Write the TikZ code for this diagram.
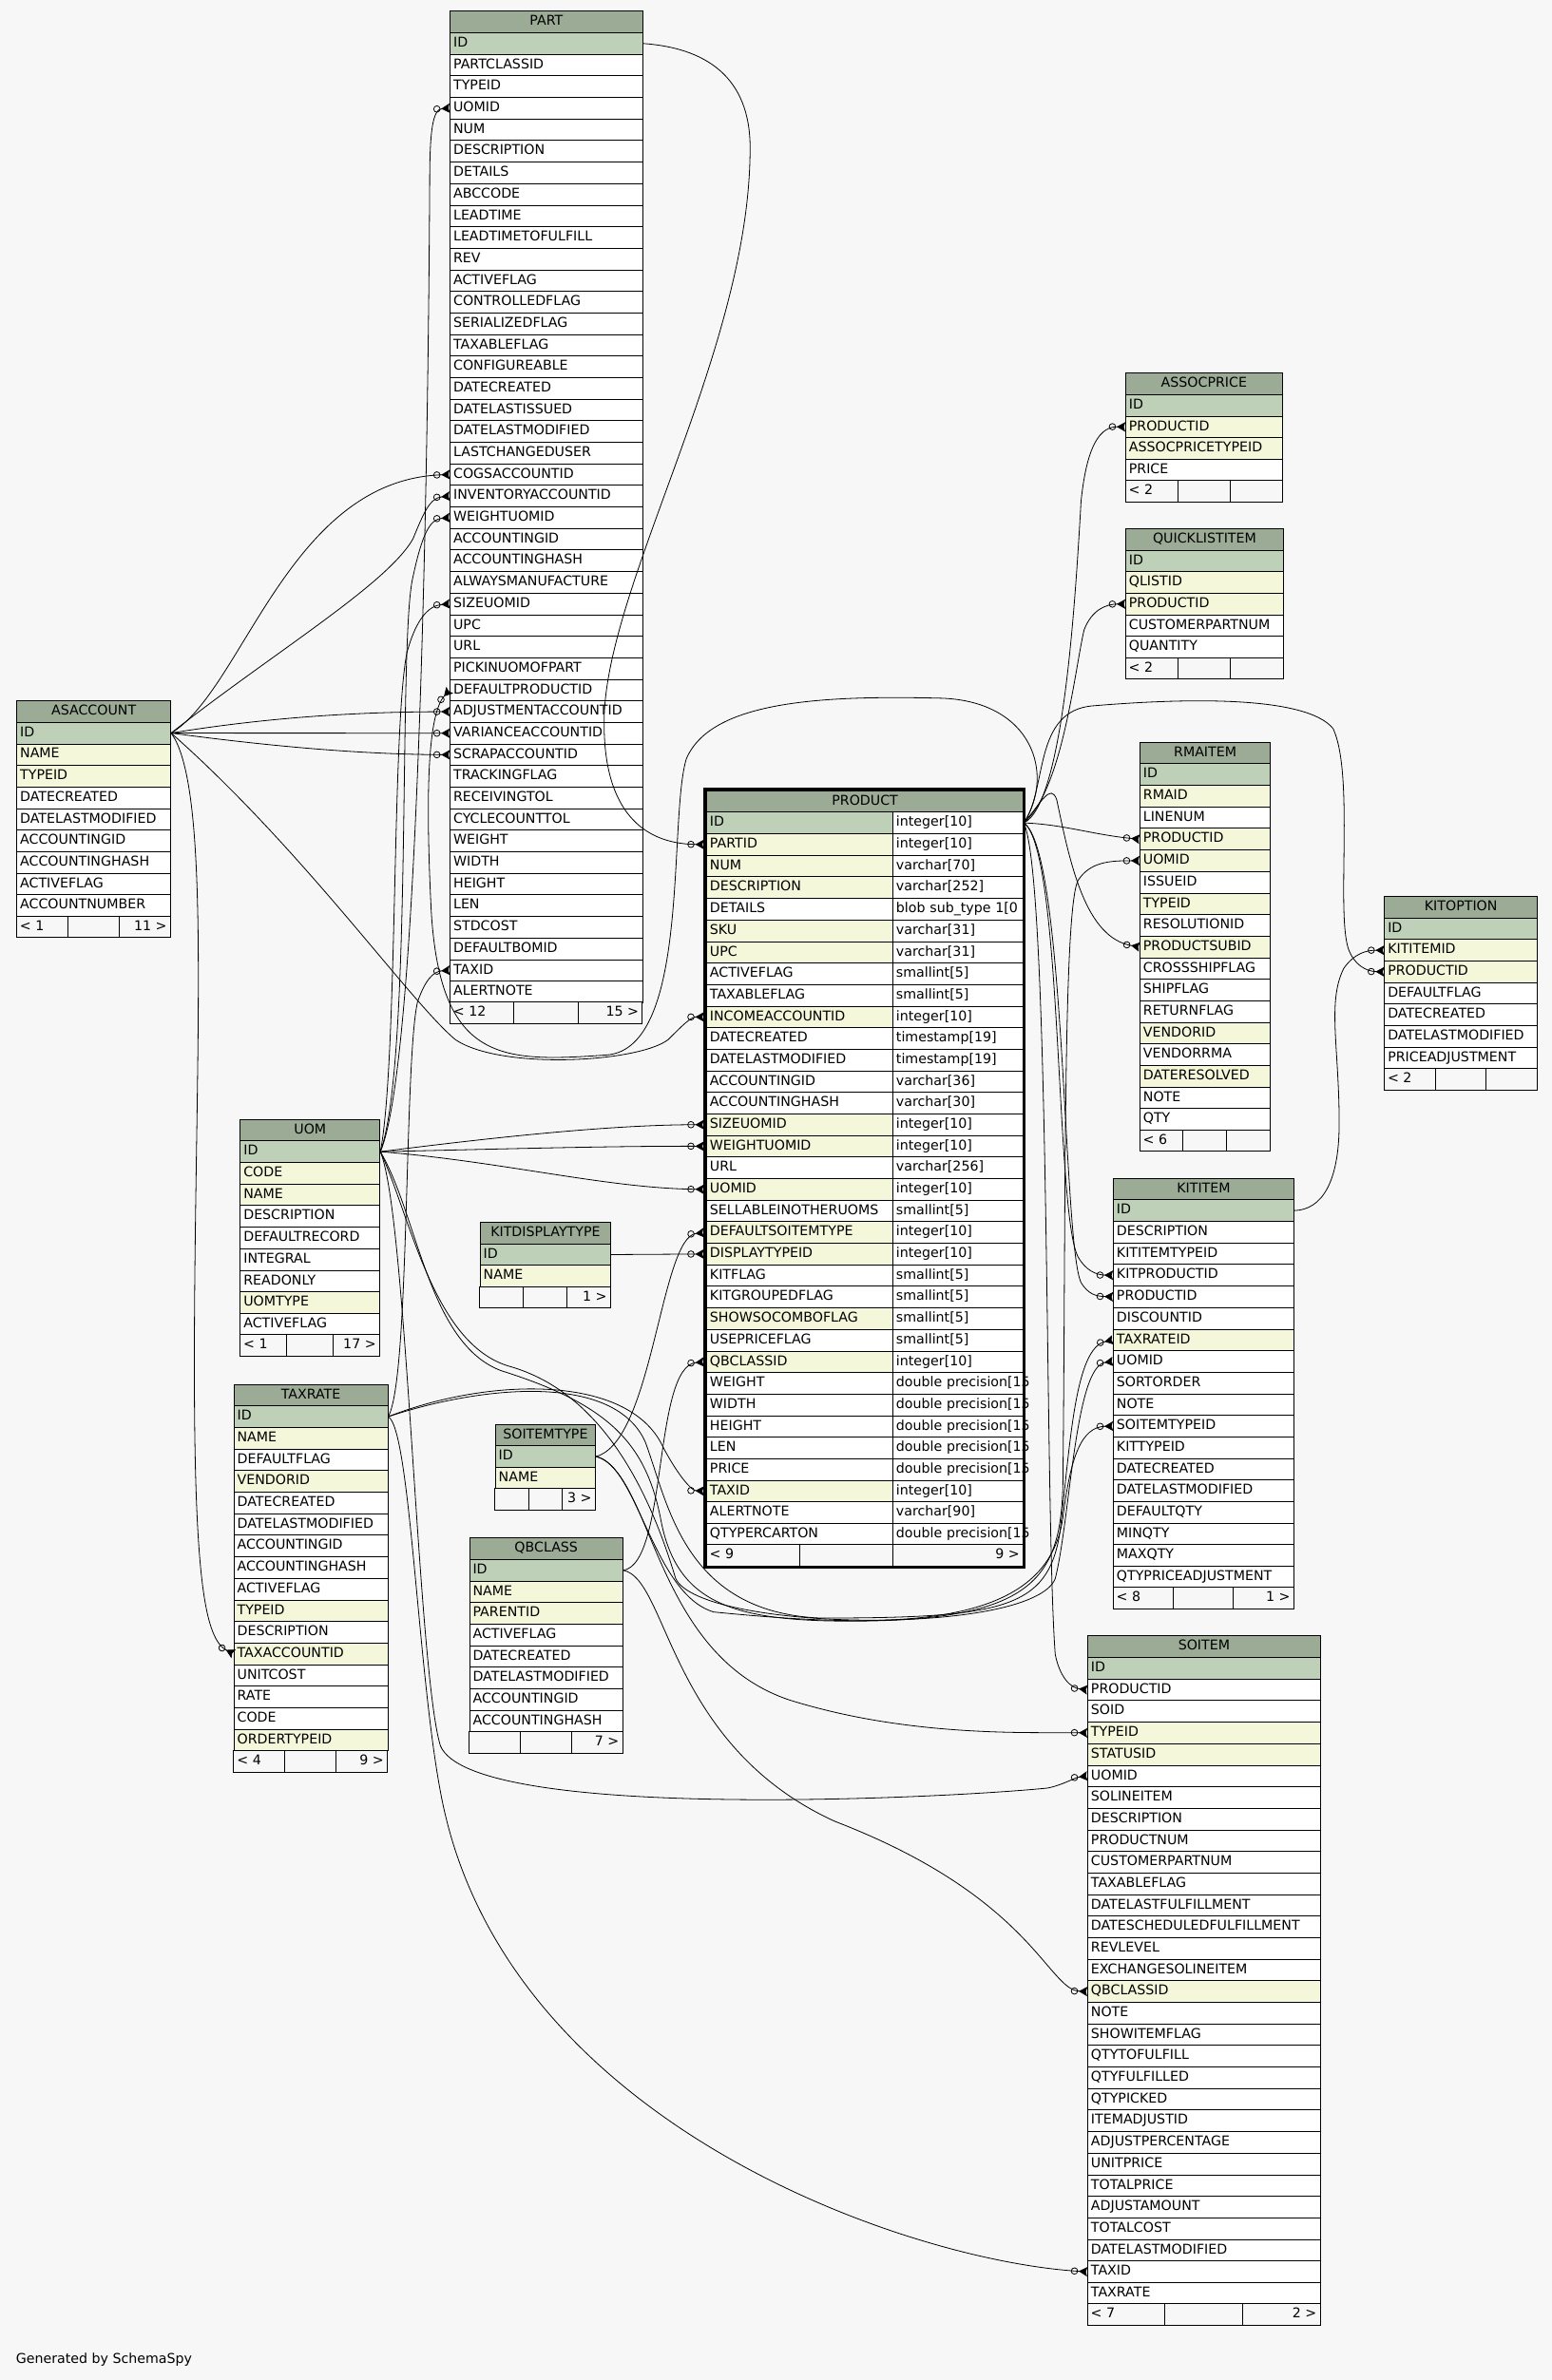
\documentclass[tikz,border=0pt]{standalone}
\usepackage{fontspec}
\setmainfont{DejaVu Sans}
\usetikzlibrary{arrows.meta}

\definecolor{headcol}{HTML}{9BAB96}
\definecolor{pkcol}{HTML}{BED1B8}
\definecolor{ixcol}{HTML}{F4F7DA}
\definecolor{bgcol}{HTML}{F7F7F7}

% table: name, left, top, width, title, rows (text/style), footer left, footer right
\newcommand{\dbtable}[8]{%
  \pgfmathsetmacro{\tblw}{#4*1.598-7}%
  \node[tblhead, text width=\tblw pt] (#1) at (#2,#3) {#5};
  \foreach \txt/\sty [count=\i] in {#6}{%
    \node[\sty, text width=\tblw pt] (#1-\i) at (#2,#3+\i*14.2) {\txt};
    \xdef\tblrows{\i}}
  \pgfmathsetmacro{\tblfy}{#3+(\tblrows+1)*14.2}%
  \draw[tblline, fill=bgcol] (#2,\tblfy) rectangle ++(#4,14.2);
  \draw[tblline] (#2+#4/3,\tblfy) -- ++(0,14.2) (#2+2*#4/3,\tblfy) -- ++(0,14.2);
  \node[ftxt, anchor=west] (#1-fl) at (#2,\tblfy+7.1) {#7};
  \node[ftxt, anchor=east] (#1-fr) at (#2+#4,\tblfy+7.1) {#8};
}

\begin{document}
\begin{tikzpicture}[
    x=1.598pt, y=-1.598pt,
    cell/.style={draw, line width=.8pt, anchor=north west, inner xsep=3.5pt, inner ysep=0pt,
                 minimum height=22.7pt, text height=10.5pt, text depth=3pt, align=left,
                 font=\fontsize{14.2}{16}\selectfont},
    tblhead/.style={cell, fill=headcol, align=center},
    pk/.style={cell, fill=pkcol},
    ix/.style={cell, fill=ixcol},
    col/.style={cell, fill=white},
    ftxt/.style={inner xsep=3.5pt, inner ysep=0pt, text height=10.5pt, text depth=3pt,
                 font=\fontsize{14.2}{16}\selectfont},
    tblline/.style={draw, line width=.8pt},
    fk/.style={draw, line width=.8pt,
               -{Circle[open, length=7.5pt, sep=.8pt] Stealth[reversed, length=9pt, width=10pt, inset=1.5pt]}},
    fkp/.style={fk, shorten >=2.5pt}
]

\fill[bgcol] (0,0) rectangle (1022,1568);
\useasboundingbox (0,0) rectangle (1022,1568);

% ---------- Tables ----------
\dbtable{part}{296.2}{7.1}{126.8}{PART}{ID/pk, PARTCLASSID/col, TYPEID/col, UOMID/col, NUM/col,
  DESCRIPTION/col, DETAILS/col, ABCCODE/col, LEADTIME/col, LEADTIMETOFULFILL/col, REV/col,
  ACTIVEFLAG/col, CONTROLLEDFLAG/col, SERIALIZEDFLAG/col, TAXABLEFLAG/col, CONFIGUREABLE/col,
  DATECREATED/col, DATELASTISSUED/col, DATELASTMODIFIED/col, LASTCHANGEDUSER/col,
  COGSACCOUNTID/col, INVENTORYACCOUNTID/col, WEIGHTUOMID/col, ACCOUNTINGID/col,
  ACCOUNTINGHASH/col, ALWAYSMANUFACTURE/col, SIZEUOMID/col, UPC/col, URL/col,
  PICKINUOMOFPART/col, DEFAULTPRODUCTID/col, ADJUSTMENTACCOUNTID/col, VARIANCEACCOUNTID/col,
  SCRAPACCOUNTID/col, TRACKINGFLAG/col, RECEIVINGTOL/col, CYCLECOUNTTOL/col, WEIGHT/col,
  WIDTH/col, HEIGHT/col, LEN/col, STDCOST/col, DEFAULTBOMID/col, TAXID/col, ALERTNOTE/col}{< 12}{15 >}

\dbtable{asaccount}{10.8}{461.4}{101.4}{ASACCOUNT}{ID/pk, NAME/ix, TYPEID/ix, DATECREATED/col,
  DATELASTMODIFIED/col, ACCOUNTINGID/col, ACCOUNTINGHASH/col, ACTIVEFLAG/col,
  ACCOUNTNUMBER/col}{< 1}{11 >}

\dbtable{assocprice}{741.1}{245.5}{103.3}{ASSOCPRICE}{ID/pk, PRODUCTID/ix, ASSOCPRICETYPEID/ix,
  PRICE/col}{< 2}{}

\dbtable{quicklist}{741.1}{348}{104}{QUICKLISTITEM}{ID/pk, QLISTID/ix, PRODUCTID/ix,
  CUSTOMERPARTNUM/col, QUANTITY/col}{< 2}{}

\dbtable{rmaitem}{750.5}{488.7}{86}{RMAITEM}{ID/pk, RMAID/ix, LINENUM/col, PRODUCTID/ix, UOMID/ix,
  ISSUEID/col, TYPEID/ix, RESOLUTIONID/col, PRODUCTSUBID/ix, CROSSSHIPFLAG/col, SHIPFLAG/col,
  RETURNFLAG/col, VENDORID/ix, VENDORRMA/col, DATERESOLVED/ix, NOTE/col, QTY/col}{< 6}{}

\dbtable{kitoption}{911.6}{590.3}{100.7}{KITOPTION}{ID/pk, KITITEMID/ix, PRODUCTID/ix,
  DEFAULTFLAG/col, DATECREATED/col, DATELASTMODIFIED/col, PRICEADJUSTMENT/col}{< 2}{}

\dbtable{kititem}{733}{776}{119}{KITITEM}{ID/pk, DESCRIPTION/col, KITITEMTYPEID/col,
  KITPRODUCTID/col, PRODUCTID/col, DISCOUNTID/col, TAXRATEID/ix, UOMID/col, SORTORDER/col,
  NOTE/col, SOITEMTYPEID/col, KITTYPEID/col, DATECREATED/col, DATELASTMODIFIED/col,
  DEFAULTQTY/col, MINQTY/col, MAXQTY/col, QTYPRICEADJUSTMENT/col}{< 8}{1 >}

\dbtable{soitem}{716.1}{1077.5}{153.3}{SOITEM}{ID/pk, PRODUCTID/col, SOID/col, TYPEID/ix,
  STATUSID/ix, UOMID/col, SOLINEITEM/col, DESCRIPTION/col, PRODUCTNUM/col, CUSTOMERPARTNUM/col,
  TAXABLEFLAG/col, DATELASTFULFILLMENT/col, DATESCHEDULEDFULFILLMENT/col, REVLEVEL/col,
  EXCHANGESOLINEITEM/col, QBCLASSID/ix, NOTE/col, SHOWITEMFLAG/col, QTYTOFULFILL/col,
  QTYFULFILLED/col, QTYPICKED/col, ITEMADJUSTID/col, ADJUSTPERCENTAGE/col, UNITPRICE/col,
  TOTALPRICE/col, ADJUSTAMOUNT/col, TOTALCOST/col, DATELASTMODIFIED/col, TAXID/col,
  TAXRATE/col}{< 7}{2 >}

\dbtable{uom}{158}{737.2}{92}{UOM}{ID/pk, CODE/ix, NAME/ix, DESCRIPTION/col, DEFAULTRECORD/col,
  INTEGRAL/col, READONLY/col, UOMTYPE/ix, ACTIVEFLAG/col}{< 1}{17 >}

\dbtable{kitdisplay}{316}{805}{86}{KITDISPLAYTYPE}{ID/pk, NAME/ix}{}{1 >}

\dbtable{taxrate}{153.8}{911.8}{101.3}{TAXRATE}{ID/pk, NAME/ix, DEFAULTFLAG/col, VENDORID/ix,
  DATECREATED/col, DATELASTMODIFIED/col, ACCOUNTINGID/col, ACCOUNTINGHASH/col, ACTIVEFLAG/col,
  TYPEID/ix, DESCRIPTION/col, TAXACCOUNTID/ix, UNITCOST/col, RATE/col, CODE/col,
  ORDERTYPEID/ix}{< 4}{9 >}

\dbtable{soitemtype}{326}{938}{66}{SOITEMTYPE}{ID/pk, NAME/ix}{}{3 >}

\dbtable{qbclass}{309}{1013}{101}{QBCLASS}{ID/pk, NAME/ix, PARENTID/ix, ACTIVEFLAG/col,
  DATECREATED/col, DATELASTMODIFIED/col, ACCOUNTINGID/col, ACCOUNTINGHASH/col}{}{7 >}

% ---------- PRODUCT (two columns) ----------
\node[tblhead, text width=326.5pt] (product) at (465.1,520.6) {PRODUCT};
\foreach \txt/\typ/\sty [count=\i] in {ID/integer[10]/pk, PARTID/integer[10]/ix,
  NUM/varchar[70]/ix, DESCRIPTION/varchar[252]/ix, DETAILS/blob sub\_type 1[0/col,
  SKU/varchar[31]/ix, UPC/varchar[31]/ix, ACTIVEFLAG/smallint[5]/col,
  TAXABLEFLAG/smallint[5]/col, INCOMEACCOUNTID/integer[10]/ix, DATECREATED/timestamp[19]/col,
  DATELASTMODIFIED/timestamp[19]/col, ACCOUNTINGID/varchar[36]/col,
  ACCOUNTINGHASH/varchar[30]/col, SIZEUOMID/integer[10]/ix, WEIGHTUOMID/integer[10]/ix,
  URL/varchar[256]/col, UOMID/integer[10]/ix, SELLABLEINOTHERUOMS/smallint[5]/col,
  DEFAULTSOITEMTYPE/integer[10]/ix, DISPLAYTYPEID/integer[10]/ix, KITFLAG/smallint[5]/col,
  KITGROUPEDFLAG/smallint[5]/col, SHOWSOCOMBOFLAG/smallint[5]/ix, USEPRICEFLAG/smallint[5]/col,
  QBCLASSID/integer[10]/ix, WEIGHT/double precision[15/col, WIDTH/double precision[15/col,
  HEIGHT/double precision[15/col, LEN/double precision[15/col, PRICE/double precision[15/col,
  TAXID/integer[10]/ix, ALERTNOTE/varchar[90]/col, QTYPERCARTON/double precision[15/col}{
  \node[\sty, text width=189.1pt] (product-\i) at (465.1,520.6+\i*14.2) {\txt};
  \node[col, text width=130.4pt] (product-\i-t) at (587.8,520.6+\i*14.2) {\mbox{\typ}};
}
\draw[tblline, fill=bgcol] (465.1,1017.6) rectangle (673.8,1031.8);
\draw[tblline] (526.7,1017.6) -- (526.7,1031.8) (587.8,1017.6) -- (587.8,1031.8);
\node[ftxt, anchor=west] (product-fl) at (465.1,1024.7) {< 9};
\node[ftxt, anchor=east] (product-fr) at (673.8,1024.7) {9 >};
\draw[line width=3pt] (464.2,519.7) rectangle (674.7,1032.7);

\node[anchor=base west, inner sep=0pt, font=\fontsize{14.2}{16}\selectfont] (credit) at (10.4,1557) {Generated by SchemaSpy};

% ---------- PART foreign keys ----------
\draw[fk] (uom-1.east) .. controls (276,700) and (282,300) .. (283,120) .. controls (283,86) and (285,72) .. (part-4.west);
\draw[fk] (asaccount-1.east) .. controls (160,455) and (190,316) .. (part-21.west);
\draw[fk] (asaccount-1.east) .. controls (180,430) and (255,385) .. (272,355) .. controls (279,338) and (283,328) .. (part-22.west);
\draw[fk] (uom-1.east) .. controls (272,700) and (262,420) .. (272,380) .. controls (278,352) and (283,342) .. (part-23.west);
\draw[fk] (uom-1.east) .. controls (262,700) and (258,480) .. (268,430) .. controls (274,408) and (282,399) .. (part-27.west);
\draw[fk] (product-1-t.east) .. controls (695,510) and (680,462) .. (620,460) .. controls (540,458) and (468,462) .. (452,500) .. controls (440,540) and (455,690) .. (400,695) .. controls (330,700) and (290,700) .. (284,600) .. controls (280,520) and (282,470) .. (part-31.west);
\draw[fk] (asaccount-1.east) .. controls (180,472) and (240,469) .. (part-32.west);
\draw[fk] (asaccount-1.east) .. controls (180,483) and (240,483) .. (part-33.west);
\draw[fk] (asaccount-1.east) .. controls (180,492) and (240,497) .. (part-34.west);
\draw[fk] (taxrate-1.east) .. controls (270,910) and (266,700) .. (275,660) .. controls (280,646) and (285,640) .. (part-44.west);

% ---------- PRODUCT foreign keys ----------
\draw[fkp] (part-1.east) .. controls (470,32) and (495,55) .. (494,100) .. controls (493,230) and (402,380) .. (398,470) .. controls (396,530) and (420,556) .. (product-2.west);
\draw[fkp] (asaccount-1.east) .. controls (200,560) and (270,660) .. (300,685) .. controls (330,705) and (420,700) .. (440,685) .. controls (450,675) and (455,670) .. (product-10.west);
\draw[fkp] (uom-1.east) .. controls (320,750) and (400,741) .. (product-15.west);
\draw[fkp] (uom-1.east) .. controls (330,757) and (400,755) .. (product-16.west);
\draw[fkp] (uom-1.east) .. controls (330,765) and (400,783) .. (product-18.west);
\draw[fkp] (soitemtype-1.east) .. controls (430,950) and (435,815) .. (product-20.west);
\draw[fkp] (kitdisplay-1.east) -- (product-21.west);
\draw[fkp] (qbclass-1.east) .. controls (440,1030) and (430,900) .. (product-26.west);
\draw[fkp] (taxrate-1.east) .. controls (320,908) and (410,905) .. (435,950) .. controls (445,970) and (455,982) .. (product-32.west);

% ---------- right side foreign keys ----------
\draw[fk] (product-1-t.east) .. controls (700,530) and (708,400) .. (712,330) .. controls (716,292) and (725,281) .. (assocprice-2.west);
\draw[fk] (product-1-t.east) .. controls (700,520) and (708,440) .. (714,415) .. controls (719,402) and (728,398) .. (quicklist-3.west);
\draw[fk] (product-1-t.east) .. controls (700,543) and (720,550) .. (rmaitem-4.west);
\draw[fk] (uom-1.east) .. controls (275,800) and (282,885) .. (330,903) .. controls (400,925) and (425,950) .. (435,1000) .. controls (445,1055) and (480,1068) .. (560,1068) .. controls (680,1068) and (698,1040) .. (700,980) .. controls (702,800) and (700,600) .. (710,580) .. controls (718,568) and (730,567) .. (rmaitem-5.west);
\draw[fk] (product-1-t.east) .. controls (685,530) and (692,515) .. (696,527) .. controls (705,570) and (715,618) .. (rmaitem-9.west);
\draw[fk] (product-1-t.east) .. controls (690,520) and (680,468) .. (720,465) .. controls (780,460) and (860,458) .. (878,480) .. controls (892,510) and (880,600) .. (888,625) .. controls (892,636) and (900,640) .. (kitoption-3.west);
\draw[fk] (kititem-1.east) .. controls (870,797) and (882,780) .. (882,740) .. controls (882,690) and (874,660) .. (885,638) .. controls (892,628) and (900,626) .. (kitoption-2.west);
\draw[fk] (product-1-t.east) .. controls (700,560) and (695,800) .. (710,828) .. controls (715,837) and (722,840) .. (kititem-4.west);
\draw[fk] (product-1-t.east) .. controls (702,560) and (700,820) .. (712,845) .. controls (717,853) and (722,854) .. (kititem-5.west);
\draw[fk] (taxrate-1.east) .. controls (320,912) and (405,905) .. (425,950) .. controls (440,990) and (450,1062) .. (540,1066) .. controls (660,1066) and (690,1060) .. (698,1010) .. controls (705,950) and (708,888) .. (kititem-7.west);
\draw[fk] (uom-1.east) .. controls (270,800) and (285,885) .. (335,900) .. controls (400,918) and (430,990) .. (445,1040) .. controls (462,1075) and (680,1078) .. (695,1040) .. controls (705,1000) and (708,900) .. (kititem-8.west);
\draw[fk] (soitemtype-1.east) .. controls (420,965) and (430,1050) .. (470,1062) .. controls (600,1075) and (690,1070) .. (700,1000) .. controls (705,960) and (712,940) .. (kititem-11.west);
\draw[fk] (product-1-t.east) .. controls (692,580) and (688,1000) .. (695,1090) .. controls (698,1105) and (705,1112) .. (soitem-2.west);
\draw[fk] (soitemtype-1.east) .. controls (430,970) and (430,1090) .. (520,1120) .. controls (600,1145) and (680,1141) .. (soitem-4.west);
\draw[fk] (uom-1.east) .. controls (268,800) and (275,1100) .. (290,1150) .. controls (310,1200) and (620,1185) .. (690,1178) .. controls (700,1176) and (708,1171) .. (soitem-6.west);
\draw[fk] (qbclass-1.east) .. controls (440,1040) and (440,1150) .. (550,1200) .. controls (680,1250) and (690,1311) .. (soitem-16.west);
\draw[fk] (taxrate-1.east) .. controls (270,940) and (275,1100) .. (290,1180) .. controls (330,1400) and (600,1490) .. (soitem-29.west);
\draw[fk] (asaccount-1.east) .. controls (140,520) and (128,700) .. (128,900) .. controls (128,1040) and (135,1080) .. (taxrate-12.west);

\end{tikzpicture}
\end{document}
